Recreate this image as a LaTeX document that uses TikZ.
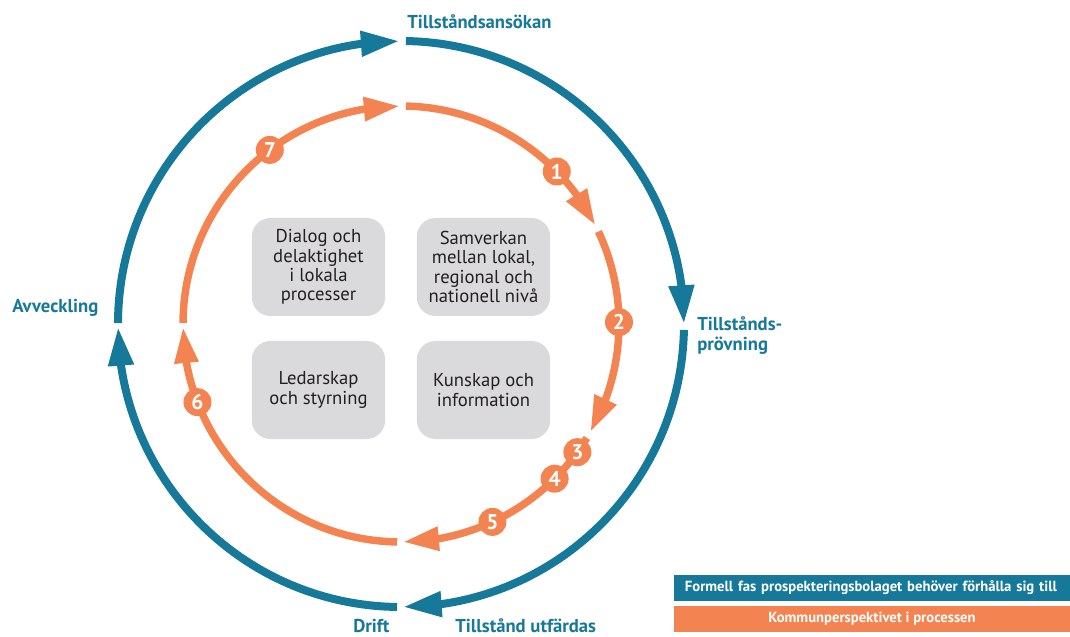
\documentclass[tikz,border=0pt]{standalone}
\usepackage{fontspec}
\setmainfont{PT Sans}
\usetikzlibrary{arrows.meta}
\usetikzlibrary{bending}
\definecolor{ringblue}{RGB}{22,121,153}
\definecolor{ringorange}{RGB}{243,132,82}
\definecolor{boxgray}{RGB}{218,218,220}
\definecolor{boxtext}{RGB}{35,31,32}

\begin{document}
\begin{tikzpicture}[x = 0.75pt, y = 0.75pt]
\tikzstyle{OuterArc}=[draw = ringblue, line width = 6pt,
                      -{Triangle[length = 29pt, width = 18pt]}]
\tikzstyle{InnerArc}=[draw = ringorange, line width = 5.6pt,
                      -{Triangle[length = 27pt, width = 17pt]}]
\tikzstyle{StepNum}=[shape = circle, fill = ringorange, text = white,
                     minimum size = 21pt, inner sep = 0pt,
                     font = \bfseries\fontsize{16}{16}\selectfont]
\tikzstyle{TopicBox}=[shape = rectangle, rounded corners = 14pt,
                      fill = boxgray, text = boxtext, align = center,
                      minimum width = 100pt, minimum height = 73.5pt,
                      font = \fontsize{14}{14.5}\selectfont]
\tikzstyle{PhaseLabel}=[text = ringblue, inner sep = 0pt, align = left,
                        font = \bfseries\fontsize{14}{15}\selectfont]
\tikzstyle{LegendBar}=[shape = rectangle, text = white,
                       minimum height = 19.5pt,
                       inner xsep = 8pt, inner ysep = 0pt,
                       font = \bfseries\fontsize{11}{12}\selectfont]
\useasboundingbox (0, 0) rectangle (1070, 636);
\coordinate (c) at (401, 312);
\coordinate (o1) at ([shift = {(89:283)}]c);
\coordinate (o2) at ([shift = {(-1.2:283)}]c);
\coordinate (o3) at ([shift = {(-90.8:283)}]c);
\coordinate (o4) at ([shift = {(179.8:283)}]c);
\coordinate (i1) at ([shift = {(88.7:218)}]c);
\coordinate (i2) at ([shift = {(25.1:218)}]c);
\coordinate (i3) at ([shift = {(-31.5:218)}]c);
\coordinate (i4) at ([shift = {(-91:218)}]c);
\coordinate (i5) at ([shift = {(179.7:218)}]c);
\draw[OuterArc] (o1) arc[start angle = 89, end angle = 0, radius = 283];
\draw[OuterArc] (o2) arc[start angle = -1.2, end angle = -89.6, radius = 283];
\draw[OuterArc] (o3) arc[start angle = -90.8, end angle = -179.4, radius = 283];
\draw[OuterArc] (o4) arc[start angle = 179.8, end angle = 90.3, radius = 283];
\draw[InnerArc] (i1) arc[start angle = 88.7, end angle = 26.9, radius = 218];
\draw[InnerArc] (i2) arc[start angle = 25.1, end angle = -29.7, radius = 218];
\draw[InnerArc] (i3) arc[start angle = -31.5, end angle = -89.5, radius = 218];
\draw[InnerArc] (i4) arc[start angle = -91, end angle = -179.2, radius = 218];
\draw[InnerArc] (i5) arc[start angle = 179.7, end angle = 90.3, radius = 218];
\node[StepNum] (n1) at ([shift = {(44.4:218)}]c) {1};
\node[StepNum] (n2) at ([shift = {(0.5:218)}]c) {2};
\node[StepNum] (n3) at ([shift = {(-36:218)}]c) {3};
\node[StepNum] (n4) at ([shift = {(-45.2:218)}]c) {4};
\node[StepNum] (n5) at ([shift = {(-65.2:218)}]c) {5};
\node[StepNum] (n6) at ([shift = {(201:218)}]c) {6};
\node[StepNum] (n7) at ([shift = {(127:218)}]c) {7};
\node[TopicBox] (dialog) at (318.5, 369) {Dialog och\\delaktighet\\i lokala\\processer};
\node[TopicBox] (samverkan) at (483.5, 369) {Samverkan\\mellan lokal,\\regional och\\nationell nivå};
\node[TopicBox] (ledarskap) at (318.5, 246) {Ledarskap\\och styrning};
\node[TopicBox] (kunskap) at (483.5, 246) {Kunskap och\\information};
\node[PhaseLabel, anchor = base west] (ansokan) at (407, 607) {Tillståndsansökan};
\node[PhaseLabel, anchor = base west] (provning) at (697, 286) {Tillstånds-\\prövning};
\node[PhaseLabel, anchor = base west] (utfardas) at (455, 4) {Tillstånd utfärdas};
\node[PhaseLabel, anchor = base west] (drift) at (353, 4) {Drift};
\node[PhaseLabel, anchor = base west] (avveckling) at (12, 323) {Avveckling};
\node[LegendBar, fill = ringblue, anchor = west, align = left, text width = 300pt] (formell) at (674, 48) {Formell fas prospekteringsbolaget behöver förhålla sig till};
\node[LegendBar, fill = ringorange, minimum width = 297pt] (kommun) at (872, 17) {Kommunperspektivet i processen};
\end{tikzpicture}
\end{document}
